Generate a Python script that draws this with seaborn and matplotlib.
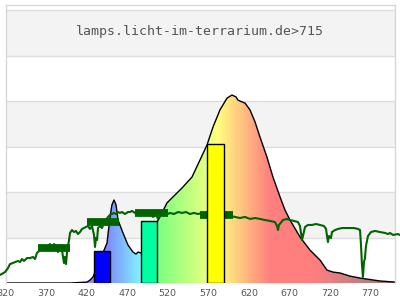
import numpy as np
import pandas as pd
import matplotlib
matplotlib.use("Agg")
import matplotlib.pyplot as plt
import seaborn as sns
from matplotlib.transforms import blended_transform_factory
from matplotlib.patches import Polygon

# ---------------- data ----------------
title = "lamps.licht-im-terrarium.de>715"

lamp_nm = [320.0, 360.0, 400.0, 420.4, 424.1, 427.8, 445.1, 448.8, 451.2, 453.7, 456.2,
           458.6, 464.8, 470.9, 477.1, 480.8, 483.3, 487.0, 496.8, 506.7, 510.4, 519.0,
           526.4, 537.5, 549.8, 559.7, 568.3, 575.7, 584.3, 593.0, 599.1, 604.1, 606.5,
           611.4, 615.1, 621.3, 627.5, 633.6, 642.2, 649.6, 658.3, 664.4, 670.6, 682.9,
           695.2, 707.6, 716.2, 723.6, 732.2, 744.5, 756.9, 781.5, 800.0]
lamp_val = [0.0, 0.0, 0.0, 0.005, 0.016, 0.033, 0.22, 0.363, 0.43, 0.456, 0.43,
            0.346, 0.275, 0.209, 0.17, 0.159, 0.17, 0.165, 0.236, 0.335, 0.363, 0.44,
            0.473, 0.522, 0.582, 0.676, 0.758, 0.857, 0.951, 1.016, 1.033, 1.022, 1.005,
            0.995, 0.989, 0.951, 0.885, 0.802, 0.692, 0.582, 0.473, 0.401, 0.346, 0.253,
            0.181, 0.126, 0.071, 0.060, 0.055, 0.038, 0.027, 0.011, 0.005]

sun_nm = [313.2, 319.4, 323.1, 325.5, 329.2, 331.7, 335.4, 337.9, 340.3, 342.8, 346.5,
          350.2, 353.9, 356.4, 358.8, 361.3, 363.7, 367.4, 369.9, 372.4, 374.8, 377.3,
          379.8, 382.2, 384.7, 387.2, 389.6, 392.1, 393.3, 394.6, 395.8, 398.3, 399.5,
          401.9, 404.4, 406.9, 409.3, 411.8, 414.3, 416.7, 419.2, 421.7, 424.1, 426.6,
          429.1, 430.3, 431.5, 432.8, 434.0, 436.5, 438.9, 441.4, 443.8, 446.3, 448.8,
          451.2, 453.7, 456.2, 458.6, 461.1, 463.6, 467.3, 470.9, 473.4, 475.9, 479.6,
          483.3, 487.0, 490.7, 494.4, 498.1, 501.8, 505.5, 507.9, 510.4, 514.1, 517.8,
          522.7, 527.6, 532.6, 537.5, 542.4, 547.4, 552.3, 557.2, 562.1, 567.1, 572.0,
          578.2, 584.3, 590.5, 596.7, 602.8, 609.0, 615.1, 621.3, 627.5, 633.6, 639.8,
          645.9, 652.1, 654.6, 655.8, 657.0, 662.0, 666.9, 670.6, 675.5, 680.4, 682.9,
          685.4, 686.6, 689.1, 692.8, 697.7, 702.6, 707.6, 712.5, 715.0, 716.2, 717.4,
          718.6, 721.1, 722.3, 726.1, 729.8, 734.7, 739.6, 744.5, 749.5, 754.4, 756.9,
          758.1, 759.3, 760.5, 761.8, 763.0, 764.2, 766.7, 770.4, 775.3, 781.5, 787.7,
          791.3, 793.8, 797.5, 803.7, 806.1]
sun_val = [0.044, 0.060, 0.082, 0.104, 0.110, 0.115, 0.121, 0.115, 0.132, 0.121, 0.137,
           0.137, 0.143, 0.132, 0.165, 0.176, 0.187, 0.203, 0.181, 0.203, 0.214, 0.187,
           0.214, 0.203, 0.170, 0.209, 0.181, 0.110, 0.143, 0.104, 0.170, 0.236, 0.275,
           0.291, 0.280, 0.286, 0.269, 0.280, 0.297, 0.302, 0.308, 0.313, 0.297, 0.313,
           0.264, 0.198, 0.247, 0.236, 0.302, 0.313, 0.302, 0.330, 0.346, 0.363, 0.374,
           0.379, 0.385, 0.379, 0.390, 0.385, 0.390, 0.379, 0.390, 0.390, 0.396, 0.385,
           0.396, 0.379, 0.390, 0.374, 0.385, 0.363, 0.379, 0.352, 0.374, 0.385, 0.374,
           0.385, 0.379, 0.390, 0.385, 0.390, 0.379, 0.385, 0.379, 0.385, 0.379, 0.374,
           0.379, 0.374, 0.379, 0.368, 0.363, 0.357, 0.363, 0.352, 0.357, 0.352, 0.346,
           0.341, 0.335, 0.313, 0.291, 0.319, 0.346, 0.352, 0.346, 0.341, 0.335, 0.313,
           0.236, 0.258, 0.308, 0.319, 0.319, 0.324, 0.319, 0.313, 0.297, 0.258, 0.225,
           0.258, 0.247, 0.280, 0.291, 0.297, 0.302, 0.302, 0.302, 0.302, 0.297, 0.291,
           0.209, 0.099, 0.033, 0.115, 0.137, 0.203, 0.258, 0.280, 0.286, 0.280, 0.275,
           0.269, 0.275, 0.264, 0.269, 0.264]

bin_lo = [360, 420, 480, 560]
bin_hi = [400, 460, 520, 600]
bin_val = [0.19, 0.335, 0.382, 0.374]

bar_center = [439, 497, 579]
bar_width = [20, 20, 21]
bar_val = [0.176, 0.341, 0.762]
bar_color = ["#0000ff", "#00ffa0", "#ffff00"]

tick_nm = [320, 370, 420, 470, 520, 570, 620, 670, 720, 770]

# ---------------- drawing ----------------
sns.set_style("white")
plt.rcParams["font.family"] = ["DejaVu Sans"]

fig = plt.figure(figsize=(4, 3), dpi=100)
ax = fig.add_axes([5.5 / 400, 17 / 300, 389.5 / 400, 278 / 300])
ax.set_facecolor("white")

# alternating bands and grid lines
for lo in (0.25, 0.75, 1.25):
    ax.axhspan(lo, lo + 0.25, color="#f3f3f3", lw=0, zorder=0)
for g in np.arange(0.25, 1.51, 0.25):
    ax.axhline(g, color="#dedede", lw=1, zorder=0.5)


def wl_rgb(w):
    w = max(w, 380.0)
    if w < 440:
        r, g, b = -(w - 440) / 60, 0.0, 1.0
    elif w < 490:
        r, g, b = 0.0, (w - 440) / 50, 1.0
    elif w < 510:
        r, g, b = 0.0, 1.0, -(w - 510) / 20
    elif w < 580:
        r, g, b = (w - 510) / 70, 1.0, 0.0
    elif w < 645:
        r, g, b = 1.0, -(w - 645) / 65, 0.0
    else:
        r, g, b = 1.0, 0.0, 0.0
    if w < 420:
        f = 0.3 + 0.7 * (w - 380) / 40
    elif w > 700:
        f = max(0.3 + 0.7 * (780 - w) / 80, 0.3)
    else:
        f = 1.0
    c = np.array([r, g, b]) * f
    return 0.5 * c + 0.5


wl = np.linspace(320, 800, 481)
cols = np.array([wl_rgb(w) for w in wl])
img = ax.imshow(cols[np.newaxis, :, :], extent=(320, 800, 0, 1.2), aspect="auto",
                origin="lower", zorder=1, interpolation="nearest")
poly = Polygon(list(zip([lamp_nm[0]] + lamp_nm + [lamp_nm[-1]], [0] + lamp_val + [0])),
               closed=True, transform=ax.transData, facecolor="none", edgecolor="none")
ax.add_patch(poly)
img.set_clip_path(poly)

# lamp spectrum outline
sns.lineplot(x=lamp_nm, y=lamp_val, ax=ax, color="black", lw=1.0, zorder=2,
             estimator=None, legend=False)

# sun reference (green)
sns.lineplot(x=sun_nm, y=sun_val, ax=ax, color="#006400", lw=1.5, zorder=3,
             estimator=None, legend=False, clip_on=False)

# bin averages (thick segments)
for lo, hi, v in zip(bin_lo, bin_hi, bin_val):
    ax.plot([lo, hi], [v, v], color="#006400", lw=5.6, solid_capstyle="butt", zorder=4)

# bars
ax.bar(bar_center, bar_val, width=bar_width, color=bar_color, edgecolor="black",
       linewidth=1.0, zorder=5)

ax.set_xlim(320, 800)
ax.set_ylim(0, 1.5275)
ax.set_xticks([])
ax.set_yticks([])
ax.set_xlabel("")
ax.set_ylabel("")
for s in ("left", "right", "top"):
    ax.spines[s].set_color("#d8d8d8")
    ax.spines[s].set_linewidth(1)
ax.spines["bottom"].set_visible(False)

# tick labels
tr = blended_transform_factory(ax.transData, fig.transFigure)
for t in tick_nm:
    ax.text(t, 7 / 300, str(t), transform=tr, ha="center", va="center",
            fontsize=6.8, color="#555555", clip_on=False)

# title
ax.text(0.5, 0.895, title, transform=fig.transFigure, ha="center", va="center",
        fontsize=9.5, color="#555555", family="DejaVu Sans Mono")

fig.savefig("out.png", dpi=100)
